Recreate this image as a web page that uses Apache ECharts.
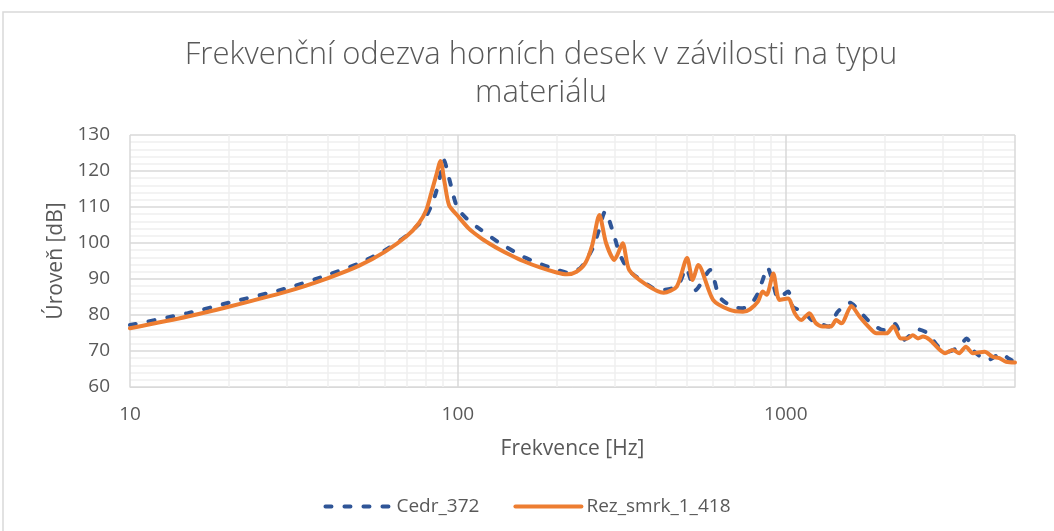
<!DOCTYPE html>
<html>
<head>
<meta charset="utf-8">
<script src="https://cdn.jsdelivr.net/npm/echarts@6/dist/echarts.min.js"></script>
<style>
html,body{margin:0;padding:0;background:#fff;}
#chart{width:1054px;height:531px;}
</style>
</head>
<body>
<div id="chart"></div>
<script>
// Cedr_372 - frekvence [Hz] a uroven [dB]
var freqCedr = [10, 15, 20, 30, 40, 50, 60, 70, 80, 85, 88, 90.6, 94, 97, 100, 108, 117, 134, 141, 158, 178, 200, 215, 236, 256, 268, 281, 300, 311, 331, 367, 410, 449, 476, 496, 530, 588, 627, 686, 740, 790, 822, 850, 880, 906, 950, 1016, 1050, 1100, 1145, 1200, 1265, 1350, 1440, 1565, 1720, 1820, 1990, 2150, 2290, 2530, 2710, 2920, 3120, 3380, 3560, 3760, 4130, 4560, 4760, 5000];
var cedr = [77.2, 80.5, 83.4, 87.4, 91.1, 94.4, 98, 102.2, 107.5, 113, 118, 123, 118, 113, 109.5, 106.2, 103.8, 100, 98.8, 96.2, 94.2, 92.6, 91.8, 93, 98, 103, 108.7, 101.8, 97.1, 92.5, 89.3, 86.9, 87.4, 89.3, 93, 86.9, 92.5, 85.1, 82.3, 81.9, 83.5, 86, 89.7, 93.2, 90.2, 84.6, 86.5, 82.3, 81.4, 80.5, 78.6, 77.7, 76.8, 80.9, 83.4, 80, 77.7, 75.8, 77.5, 73.1, 76, 74.9, 71.2, 69.8, 71.2, 73.5, 69.8, 67.5, 69.4, 68, 67];

// Rez_smrk_1_418
var freqRez = [10, 15, 20, 30, 40, 50, 60, 70, 76, 80, 83, 86, 88.5, 91, 94, 100, 108, 117, 125, 134, 145, 158, 178, 200, 215, 230, 245, 257, 270, 283, 300, 318, 333, 377, 424, 465, 500, 520, 541, 600, 675, 740, 778, 822, 850, 874, 916, 956, 1016, 1065, 1115, 1180, 1236, 1295, 1374, 1424, 1478, 1585, 1680, 1785, 1890, 2030, 2130, 2240, 2350, 2440, 2530, 2620, 2750, 2920, 3060, 3230, 3380, 3540, 3720, 4040, 4270, 4480, 4700, 5000];
var rez = [76.3, 79.6, 82.3, 86.5, 90.2, 93.7, 97.6, 102, 105.5, 109, 114, 119, 122.8, 117, 110.5, 107.5, 104, 101.5, 99.8, 98.2, 96.6, 95, 93.2, 91.8, 91.3, 92, 94.5, 99.5, 107.8, 100, 95.3, 99.9, 92.5, 88.3, 86.2, 87.9, 95.8, 89.7, 93.9, 84.2, 81.4, 80.9, 81.6, 83.7, 86.5, 85.6, 91.5, 84.2, 84.6, 80.5, 78.6, 80.5, 77.7, 76.8, 76.8, 78.6, 77.7, 82.5, 79.5, 76.8, 74.9, 74.9, 76.9, 73.5, 73.5, 74.4, 73.5, 74, 73.1, 70.7, 69.4, 70.3, 69.4, 71.2, 69.4, 69.8, 68.4, 68, 67, 66.8];

// vedlejsi svisle mrizky (log osa)
var minorFreq = [20, 30, 40, 50, 60, 70, 80, 90, 200, 300, 400, 500, 600, 700, 800, 900, 2000, 3000, 4000];

function pairs(fx, vy){
	var out = [];
	for(var i=0;i<fx.length;i++){
		out.push([fx[i], vy[i]]);
	}
	return out;
}

var textColor = '#595959';
var fontFam = '"Open Sans", "Noto Sans", sans-serif';

var chart = echarts.init(document.getElementById('chart'));
var option = {
	animation: false,
	backgroundColor: '#fff',
	textStyle: { fontFamily: fontFam },
	graphic: [{
		type: 'rect',
		shape: { x: 3, y: 12, width: 1060, height: 540 },
		style: { fill: 'none', stroke: '#d9d9d9', lineWidth: 1.5 },
		silent: true
	}],
	title: {
		text: 'Frekvenční odezva horních desek v závilosti na typu\nmateriálu',
		left: 536,
		textAlign: 'center',
		top: 31,
		textStyle: {
			fontFamily: fontFam,
			fontSize: 31,
			fontWeight: 300,
			color: textColor,
			lineHeight: 38
		}
	},
	legend: {
		bottom: 10,
		left: 'center',
		itemWidth: 66,
		itemHeight: 14,
		itemGap: 34,
		itemStyle: { opacity: 0 },
		lineStyle: { width: 4 },
		textStyle: { fontSize: 19, color: textColor, fontFamily: fontFam },
		data: ['Cedr_372', 'Rez_smrk_1_418']
	},
	grid: { left: 130, right: 39, top: 135, bottom: 144 },
	xAxis: {
		type: 'log',
		logBase: 10,
		min: 10,
		max: 5000,
		name: 'Frekvence [Hz]',
		nameLocation: 'middle',
		nameGap: 52,
		nameTextStyle: { fontSize: 21, color: textColor },
		axisLine: { show: true, lineStyle: { color: '#d9d9d9', width: 1 } },
		axisTick: { show: false },
		axisLabel: {
			fontSize: 19,
			color: textColor,
			margin: 18,
			formatter: function(v){
				return (v == 10 || v == 100 || v == 1000) ? String(v) : '';
			}
		},
		splitLine: { show: true, lineStyle: { color: '#d9d9d9', width: 1.5 } }
	},
	yAxis: {
		type: 'value',
		min: 60,
		max: 130,
		interval: 10,
		name: 'Úroveň [dB]',
		nameLocation: 'middle',
		nameGap: 62,
		nameTextStyle: { fontSize: 21, color: textColor },
		axisLine: { show: false },
		axisTick: { show: false },
		axisLabel: { fontSize: 19, color: textColor, margin: 20 },
		splitLine: { show: true, lineStyle: { color: '#d9d9d9', width: 1.5 } },
		minorTick: { show: false, splitNumber: 5 },
		minorSplitLine: { show: true, lineStyle: { color: '#efefef', width: 1.5 } }
	},
	series: [{
		name: 'Cedr_372',
		type: 'line',
		data: pairs(freqCedr, cedr),
		smooth: 0.25,
		symbol: 'none',
		color: '#2f5597',
		lineStyle: { color: '#2f5597', width: 4, type: [6, 13], cap: 'round' },
		z: 3,
		markLine: {
			silent: true,
			symbol: 'none',
			z: 1,
			label: { show: false },
			lineStyle: { color: '#efefef', width: 1.5, type: 'solid' },
			emphasis: { disabled: true },
			data: minorFreq.map(function(f){ return { xAxis: f }; })
		}
	}, {
		name: 'Rez_smrk_1_418',
		type: 'line',
		data: pairs(freqRez, rez),
		smooth: 0.25,
		symbol: 'none',
		color: '#ed7d31',
		lineStyle: { color: '#ed7d31', width: 4, cap: 'round' },
		z: 4
	}]
};
chart.setOption(option);
</script>
</body>
</html>
